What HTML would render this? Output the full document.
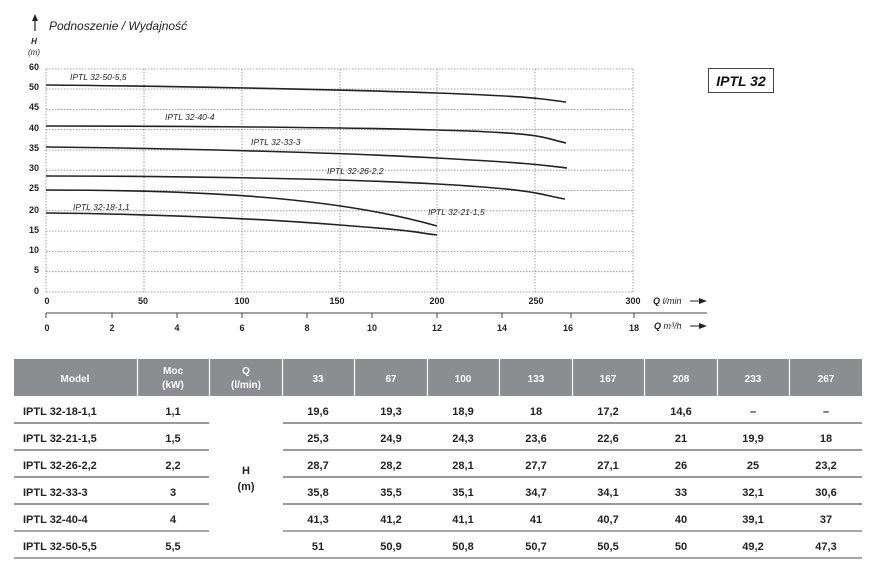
<!DOCTYPE html>
<html><head><meta charset="utf-8"><style>
body{margin:0;background:#fff;width:887px;height:579px;overflow:hidden;font-family:"Liberation Sans",sans-serif}
svg{position:absolute;left:0;top:0}
</style></head><body>
<svg width="887" height="579" viewBox="0 0 887 579" font-family="Liberation Sans, sans-serif">
<!-- title -->
<line x1="35" y1="31" x2="35" y2="20" stroke="#222" stroke-width="1.2"/>
<polygon points="32,21 38,21 35,14" fill="#222"/>
<text x="49" y="30" font-size="12" font-style="italic" fill="#222">Podnoszenie / Wydajność</text>
<text x="34" y="44" font-size="8" font-style="italic" font-weight="bold" text-anchor="middle" fill="#222">H</text>
<text x="34" y="55" font-size="8" font-style="italic" text-anchor="middle" fill="#222">(m)</text>
<!-- grid -->
<g stroke="#888" stroke-width="0.8" stroke-dasharray="1.5,1.5" fill="none">
<line x1="46" y1="69" x2="633" y2="69"/>
<line x1="46" y1="89" x2="633" y2="89"/>
<line x1="46" y1="109.4" x2="633" y2="109.4"/>
<line x1="46" y1="129.7" x2="633" y2="129.7"/>
<line x1="46" y1="150" x2="633" y2="150"/>
<line x1="46" y1="170.2" x2="633" y2="170.2"/>
<line x1="46" y1="190.5" x2="633" y2="190.5"/>
<line x1="46" y1="210.8" x2="633" y2="210.8"/>
<line x1="46" y1="231.1" x2="633" y2="231.1"/>
<line x1="46" y1="251.4" x2="633" y2="251.4"/>
<line x1="46" y1="271.7" x2="633" y2="271.7"/>
<line x1="46" y1="292" x2="633" y2="292"/>
<line x1="46" y1="69" x2="46" y2="292"/>
<line x1="144" y1="69" x2="144" y2="292"/>
<line x1="242" y1="69" x2="242" y2="292"/>
<line x1="340" y1="69" x2="340" y2="292"/>
<line x1="437" y1="69" x2="437" y2="292"/>
<line x1="535" y1="69" x2="535" y2="292"/>
<line x1="633" y1="69" x2="633" y2="292"/>
</g>
<g font-size="9" font-weight="bold" fill="#222" text-anchor="end">
<text x="39" y="70">60</text><text x="39" y="90">50</text><text x="39" y="110">45</text><text x="39" y="131">40</text><text x="39" y="151">35</text><text x="39" y="171">30</text><text x="39" y="191">25</text><text x="39" y="213">20</text><text x="39" y="233">15</text><text x="39" y="253">10</text><text x="39" y="273">5</text><text x="39" y="294">0</text>
</g>
<g font-size="9" font-weight="bold" fill="#222" text-anchor="middle">
<text x="47" y="304">0</text><text x="143" y="304">50</text><text x="242" y="304">100</text><text x="337" y="304">150</text><text x="437" y="304">200</text><text x="536" y="304">250</text><text x="633" y="304">300</text>
<text x="47" y="331">0</text><text x="112" y="331">2</text><text x="177" y="331">4</text><text x="242" y="331">6</text><text x="307" y="331">8</text><text x="372" y="331">10</text><text x="437" y="331">12</text><text x="502" y="331">14</text><text x="568" y="331">16</text><text x="634" y="331">18</text>
</g>
<line x1="46" y1="313" x2="707" y2="313" stroke="#444" stroke-width="1"/>
<g stroke="#444" stroke-width="1">
<line x1="46" y1="313" x2="46" y2="318"/><line x1="112" y1="313" x2="112" y2="318"/><line x1="177" y1="313" x2="177" y2="318"/><line x1="242" y1="313" x2="242" y2="318"/><line x1="307" y1="313" x2="307" y2="318"/><line x1="372" y1="313" x2="372" y2="318"/><line x1="437" y1="313" x2="437" y2="318"/><line x1="502" y1="313" x2="502" y2="318"/><line x1="571" y1="313" x2="571" y2="318"/><line x1="634" y1="313" x2="634" y2="318"/>
</g>
<text x="653" y="304" font-size="9" font-style="italic" fill="#222"><tspan font-weight="bold">Q</tspan> l/min</text>
<text x="654" y="329" font-size="9" font-style="italic" fill="#222"><tspan font-weight="bold">Q</tspan> m³/h</text>
<line x1="690" y1="301" x2="700" y2="301" stroke="#222" stroke-width="1"/><polygon points="699,298 707,301 699,304" fill="#222"/>
<line x1="690" y1="326" x2="700" y2="326" stroke="#222" stroke-width="1"/><polygon points="699,323 707,326 699,329" fill="#222"/>
<!-- curves -->
<g stroke="#222" stroke-width="1.6" fill="none">
<path d="M46,85 C150,86 330,89 437,93 S540,99 566,102"/>
<path d="M46,126 C150,126 330,127 437,130 S540,137 566,143"/>
<path d="M46,147 C150,148 330,152 437,158 S540,165 567,168"/>
<path d="M46,176 C150,176 330,178 437,184 S540,195 565,199"/>
<path d="M46,190 C120,190 200,192 260,197 S380,210 437,226"/>
<path d="M46,213 C150,214 250,218 340,225 S410,232 437,235"/>
</g>
<g font-size="8.5" font-style="italic" fill="#222">
<text x="70" y="80">IPTL 32-50-5,5</text>
<text x="165" y="120">IPTL 32-40-4</text>
<text x="251" y="145">IPTL 32-33-3</text>
<text x="327" y="174">IPTL 32-26-2,2</text>
<text x="73" y="210">IPTL 32-18-1,1</text>
<text x="428" y="215">IPTL 32-21-1,5</text>
</g>
<rect x="708.5" y="68.5" width="65" height="24" fill="none" stroke="#444" stroke-width="1"/>
<text x="741" y="86" font-size="14" font-weight="bold" font-style="italic" text-anchor="middle" fill="#111">IPTL 32</text>
<!-- table header -->
<rect x="14" y="359" width="848" height="37" fill="#8c8d90"/>
<g stroke="#fff" stroke-width="1.2">
<line x1="137.5" y1="359" x2="137.5" y2="396"/><line x1="209.5" y1="359" x2="209.5" y2="396"/><line x1="282.5" y1="359" x2="282.5" y2="396"/><line x1="354.5" y1="359" x2="354.5" y2="396"/><line x1="427.5" y1="359" x2="427.5" y2="396"/><line x1="499.5" y1="359" x2="499.5" y2="396"/><line x1="572.5" y1="359" x2="572.5" y2="396"/><line x1="644.5" y1="359" x2="644.5" y2="396"/><line x1="717.5" y1="359" x2="717.5" y2="396"/><line x1="789.5" y1="359" x2="789.5" y2="396"/>
</g>
<g font-size="10" font-weight="bold" fill="#fff" text-anchor="middle">
<text x="75" y="382">Model</text>
<text x="173" y="374">Moc</text><text x="173" y="388">(kW)</text>
<text x="246" y="374">Q</text><text x="246" y="388">(l/min)</text>
<text x="318" y="382">33</text><text x="391" y="382">67</text><text x="463" y="382">100</text><text x="536" y="382">133</text><text x="608" y="382">167</text><text x="681" y="382">208</text><text x="753" y="382">233</text><text x="826" y="382">267</text>
</g>
<g stroke="#333" stroke-width="1">
<line x1="14" y1="423" x2="209" y2="423"/><line x1="283" y1="423" x2="862" y2="423"/>
<line x1="14" y1="450" x2="209" y2="450"/><line x1="283" y1="450" x2="862" y2="450"/>
<line x1="14" y1="477" x2="209" y2="477"/><line x1="283" y1="477" x2="862" y2="477"/>
<line x1="14" y1="504" x2="209" y2="504"/><line x1="283" y1="504" x2="862" y2="504"/>
</g>
<g stroke="#888" stroke-width="1.5">
<line x1="14" y1="531" x2="209" y2="531"/><line x1="283" y1="531" x2="862" y2="531"/>
<line x1="14" y1="558" x2="862" y2="558"/>
</g>
<g font-size="11" font-weight="bold" fill="#222">
<text x="23" y="415">IPTL 32-18-1,1</text>
<text x="23" y="442">IPTL 32-21-1,5</text>
<text x="23" y="469">IPTL 32-26-2,2</text>
<text x="23" y="496">IPTL 32-33-3</text>
<text x="23" y="523">IPTL 32-40-4</text>
<text x="23" y="550">IPTL 32-50-5,5</text>
</g>
<g font-size="11" font-weight="bold" fill="#222" text-anchor="middle">
<text x="173" y="415">1,1</text><text x="173" y="442">1,5</text><text x="173" y="469">2,2</text><text x="173" y="496">3</text><text x="173" y="523">4</text><text x="173" y="550">5,5</text>
<text x="246" y="474">H</text><text x="246" y="490">(m)</text>
<text x="318" y="415">19,6</text><text x="391" y="415">19,3</text><text x="463" y="415">18,9</text><text x="536" y="415">18</text><text x="608" y="415">17,2</text><text x="681" y="415">14,6</text><text x="753" y="415">–</text><text x="826" y="415">–</text>
<text x="318" y="442">25,3</text><text x="391" y="442">24,9</text><text x="463" y="442">24,3</text><text x="536" y="442">23,6</text><text x="608" y="442">22,6</text><text x="681" y="442">21</text><text x="753" y="442">19,9</text><text x="826" y="442">18</text>
<text x="318" y="469">28,7</text><text x="391" y="469">28,2</text><text x="463" y="469">28,1</text><text x="536" y="469">27,7</text><text x="608" y="469">27,1</text><text x="681" y="469">26</text><text x="753" y="469">25</text><text x="826" y="469">23,2</text>
<text x="318" y="496">35,8</text><text x="391" y="496">35,5</text><text x="463" y="496">35,1</text><text x="536" y="496">34,7</text><text x="608" y="496">34,1</text><text x="681" y="496">33</text><text x="753" y="496">32,1</text><text x="826" y="496">30,6</text>
<text x="318" y="523">41,3</text><text x="391" y="523">41,2</text><text x="463" y="523">41,1</text><text x="536" y="523">41</text><text x="608" y="523">40,7</text><text x="681" y="523">40</text><text x="753" y="523">39,1</text><text x="826" y="523">37</text>
<text x="318" y="550">51</text><text x="391" y="550">50,9</text><text x="463" y="550">50,8</text><text x="536" y="550">50,7</text><text x="608" y="550">50,5</text><text x="681" y="550">50</text><text x="753" y="550">49,2</text><text x="826" y="550">47,3</text>
</g>
</svg>
</body></html>
